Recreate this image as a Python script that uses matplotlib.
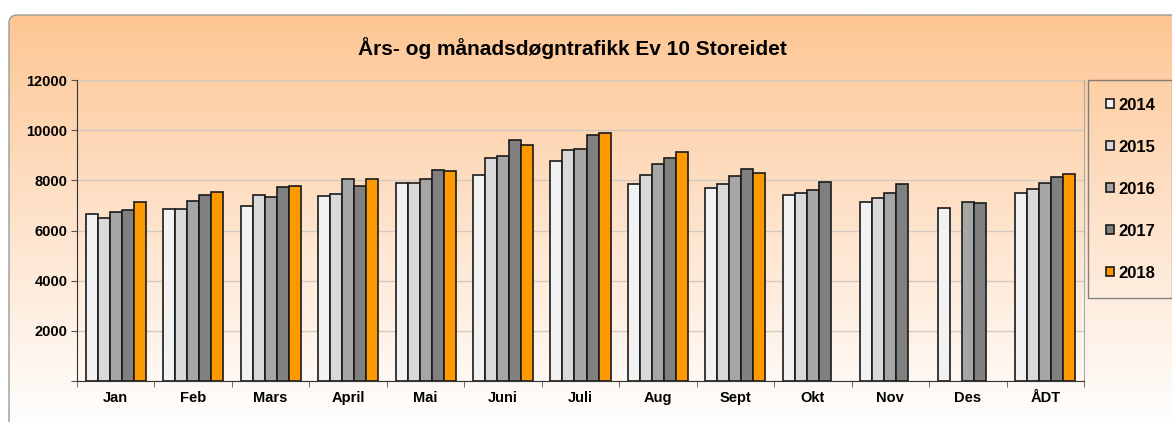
import matplotlib.pyplot as plt
import numpy as np
from matplotlib.patches import FancyBboxPatch
from matplotlib.colors import LinearSegmentedColormap

plt.rcParams['font.family'] = ['Liberation Sans', 'DejaVu Sans']

months = ['Jan', 'Feb', 'Mars', 'April', 'Mai', 'Juni', 'Juli', 'Aug', 'Sept', 'Okt', 'Nov', 'Des', 'ÅDT']
years = ['2014', '2015', '2016', '2017', '2018']

# values (nan = no bar)
v2014 = [6640, 6860, 6980, 7360, 7910, 8210, 8760, 7870, 7690, 7420, 7130, 6900, 7490]
v2015 = [6500, 6860, 7430, 7460, 7880, 8910, 9190, 8210, 7870, 7480, 7290, np.nan, 7670]
v2016 = [6730, 7180, 7340, 8070, 8040, 8990, 9230, 8660, 8190, 7620, 7490, 7140, 7900]
v2017 = [6810, 7400, 7750, 7790, 8420, 9600, 9810, 8900, 8460, 7940, 7870, 7080, 8150]
v2018 = [7130, 7550, 7780, 8070, 8370, 9390, 9890, 9120, 8290, np.nan, np.nan, np.nan, 8270]

series = [v2014, v2015, v2016, v2017, v2018]
colors = ['#f2f2f2', '#d9d9d9', '#a6a6a6', '#808080', '#ff9900']

fig = plt.figure(figsize=(11.72, 4.22), dpi=100)

# gradient background with rounded corner
bg = fig.add_axes([0, 0, 1, 1], zorder=-10)
bg.set_xlim(0, 1172)
bg.set_ylim(422, 0)
bg.axis('off')
cmap = LinearSegmentedColormap.from_list('bg', ['#fdc693', '#fee3cc', '#ffffff'])
grad = np.linspace(0, 1, 256).reshape(-1, 1)
im = bg.imshow(grad, cmap=cmap, aspect='auto', extent=[9, 1190, 430, 15])
clip = FancyBboxPatch((9, 15), 1200, 430, boxstyle='round,pad=0,rounding_size=8',
                      facecolor='none', edgecolor='#9a9a9a', lw=1.0)
bg.add_patch(clip)
im.set_clip_path(clip)

ax = fig.add_axes([77 / 1172, 41 / 422, 1007 / 1172, 301 / 422])
ax.patch.set_alpha(0)

x = np.arange(len(months))
w = 0.155
for i, (vals, c, yr) in enumerate(zip(series, colors, years)):
    ax.bar(x + (i - 2) * w, vals, width=w, color=c, edgecolor='#1a1a1a', linewidth=1.2,
           label=yr, zorder=3)

ax.set_xlim(-0.5, len(months) - 0.5)
ax.set_ylim(0, 12000)
ax.set_yticks(np.arange(0, 12001, 2000))
ax.set_yticklabels(['', '2000', '4000', '6000', '8000', '10000', '12000'],
                   fontsize=10.5, fontweight='bold')
ax.yaxis.grid(True, color='#d3c9c0', linewidth=1.0, zorder=0)
ax.set_xticks(x)
ax.set_xticklabels(months, fontsize=10.5, fontweight='bold')
ax.tick_params(axis='x', length=0, pad=7)
ax.set_xticks(np.arange(-0.5, len(months)), minor=True)
ax.tick_params(axis='x', which='minor', length=4, color='#555555')
ax.tick_params(axis='y', length=4, color='#555555', pad=3)
ax.spines['top'].set_visible(False)
ax.spines['left'].set_color('#333333')
ax.spines['bottom'].set_color('#333333')
ax.spines['right'].set_color('#aaaaaa')

fig.text(572 / 1172, 1 - 48 / 422, 'Års- og månadsdøgntrafikk Ev 10 Storeidet',
         ha='center', va='center', fontsize=15, fontweight='bold')

leg = fig.legend(loc='upper left', bbox_to_anchor=(1088 / 1172, 1 - 80 / 422),
                 borderaxespad=0, frameon=True, fancybox=False,
                 handlelength=0.5, handleheight=0.5,
                 handletextpad=0.25, labelspacing=1.62, borderpad=1.05,
                 prop={'weight': 'bold', 'size': 12})
leg.get_frame().set_edgecolor('#666666')
leg.get_frame().set_facecolor('none')
leg.get_frame().set_linewidth(1.0)

fig.savefig('out.png', dpi=100)
